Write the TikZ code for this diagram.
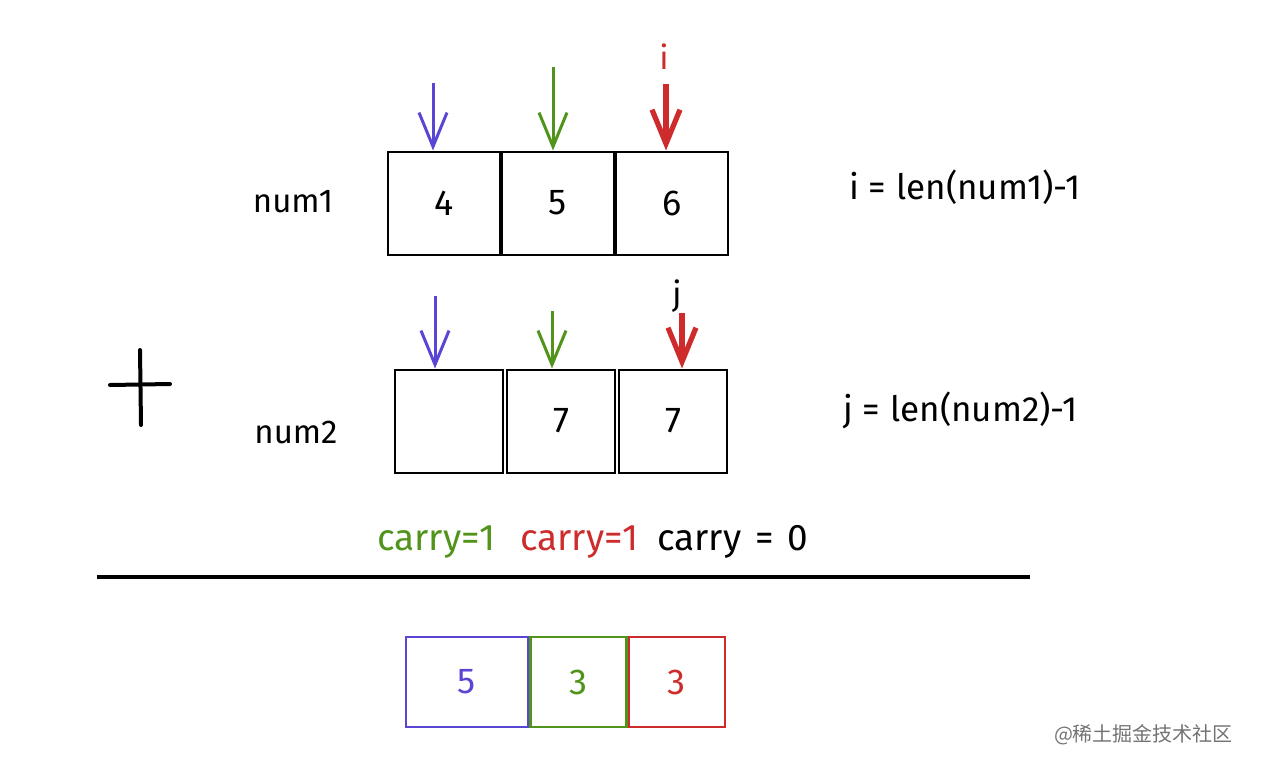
\documentclass[tikz,border=0pt]{standalone}
\usepackage{fontspec}
\setmainfont{Fira Sans}
\newfontfamily\cjk{Noto Sans CJK SC}
\usetikzlibrary{positioning,arrows.meta}
\definecolor{ptrblue}{RGB}{90,70,212}
\definecolor{ptrgreen}{RGB}{80,148,28}
\definecolor{ptrred}{RGB}{206,44,44}

\begin{document}
\begin{tikzpicture}[x=0.5pt, y=-0.5pt,
    cell/.style={draw, line width=1pt, inner sep=0pt, minimum height=51.5pt,
      font=\fontsize{18}{20}\selectfont},
    row/.style={cell, minimum width=56pt},
    rowb/.style={cell, minimum width=54pt},
    res/.style={cell, line width=1.2pt, minimum height=45pt, minimum width=48pt},
    ptr/.style={-{Straight Barb[length=17pt, width=14pt, line width=1.5pt]}, line width=1.5pt},
    hot/.style={-{Straight Barb[length=17pt, width=14pt, line width=2.6pt]}, line width=2.6pt},
    lab/.style={font=\fontsize{16.5}{19}\selectfont},
    eq/.style={font=\fontsize{17.5}{20}\selectfont, anchor=west},
    carry/.style={font=\fontsize{18.5}{21}\selectfont, anchor=west},
    node distance=1pt]
\useasboundingbox (0,0) rectangle (1262,766);

% --- num1
\node[lab] (n1) at (293,202) {num1};
\node[row] (a1) at (444,203) {4};
\node[row, right=0pt of a1] (a2) {5};
\node[row, right=0pt of a2] (a3) {6};
\coordinate (pa1) at (433,83);
\coordinate (pa2) at (553,67);
\coordinate (pa3) at (666,84);
\draw[ptr, ptrblue] (pa1) -- (pa1 |- a1.north);
\draw[ptr, ptrgreen] (pa2) -- (pa2 |- a2.north);
\draw[hot, ptrred] (pa3) -- (pa3 |- a3.north);
\node[lab, ptrred] (li) at (664,57) {i};
\node[eq] (ei) at (842,187) {i\hspace{5pt}=\hspace{5pt}len(num1)-1};

% --- plus sign
\draw[line width=2pt, line cap=round] (110,385) -- (170,384);
\draw[line width=2pt, line cap=round] (140,350) -- (141,425);

% --- num2
\node[lab] (n2) at (296,432) {num2};
\node[rowb] (b1) at (449,421) {};
\node[rowb, right=of b1] (b2) {7};
\node[rowb, right=of b2] (b3) {7};
\coordinate (pb1) at (435,296);
\coordinate (pb2) at (552,311);
\coordinate (pb3) at (682,313);
\draw[ptr, ptrblue] (pb1) -- (pb1 |- b1.north);
\draw[ptr, ptrgreen] (pb2) -- (pb2 |- b2.north);
\draw[hot, ptrred] (pb3) -- (pb3 |- b3.north);
\node[lab] (lj) at (677,296) {j};
\node[eq] (ej) at (836,410) {j\hspace{5pt}=\hspace{5pt}len(num2)-1};

% --- carries and rule
\node[carry, ptrgreen] (k1) at (370,542) {carry=1};
\node[carry, ptrred] (k2) at (513,542) {carry=1};
\node[carry] (k3) at (650,542) {carry\hspace{7pt}=\hspace{7pt}0};
\coordinate (rl) at (97,577);
\coordinate (rr) at (1030,577);
\draw[line width=2pt] (rl) -- (rr);

% --- result
\node[res, draw=ptrblue, text=ptrblue, minimum width=61pt] (c1) at (467,682) {5};
\node[res, draw=ptrgreen, text=ptrgreen, right=0pt of c1] (c2) {3};
\node[res, draw=ptrred, text=ptrred, right=0pt of c2] (c3) {3};

\node[anchor=east, text=black!55, font=\cjk\fontsize{10}{12}\selectfont] (wm) at (1240,735) {@稀土掘金技术社区};
\end{tikzpicture}
\end{document}
